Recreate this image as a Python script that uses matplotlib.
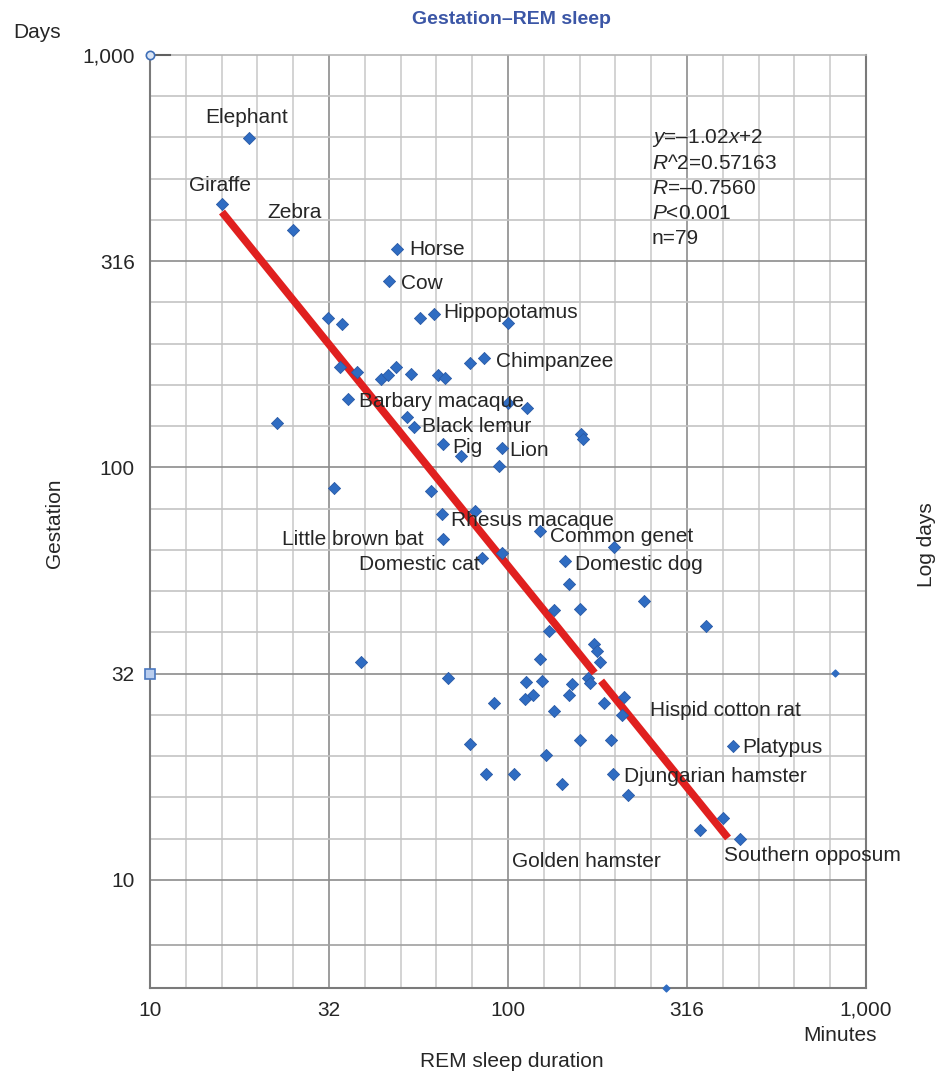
import numpy as np
import matplotlib
matplotlib.use("Agg")
import matplotlib.pyplot as plt

plt.rcParams['font.family'] = ['Liberation Sans', 'DejaVu Sans']
plt.rcParams['mathtext.fontset'] = 'custom'
plt.rcParams['mathtext.rm'] = 'Liberation Sans'
plt.rcParams['mathtext.it'] = 'Liberation Sans:italic'

# REM sleep duration (minutes) and gestation (days)
remSleep = [18.9, 15.9, 25.1, 49.1, 46.6, 31.5, 34.4, 56.8, 62.1, 99.8,
            33.9, 37.8, 44.2, 46.2, 48.7, 53.6, 63.9, 66.8, 78.5, 85.9,
            35.7, 99.8, 113.0, 52.3, 54.5, 66.0, 74.1, 96.0, 94.4, 22.6,
            159.9, 162.3, 32.7, 60.8, 65.3, 80.7, 65.8, 84.8, 96.4, 122.9,
            198.2, 144.6, 147.8, 239.8, 134.2, 158.9, 130.2, 358.0, 173.9, 177.6,
            180.7, 122.9, 38.8, 68.0, 91.6, 112.0, 124.2, 151.2, 167.6, 169.8,
            117.2, 111.8, 147.8, 185.1, 210.9, 134.7, 207.8, 158.9, 194.0, 78.3,
            127.9, 87.0, 103.9, 141.8, 196.1, 216.0, 425.9, 397.9, 343.9, 445.6]
gestation = [630, 436, 376, 338, 282.8, 230, 222.8, 230, 235.6, 224.4,
             175.6, 170.7, 163.9, 167.9, 175.6, 168.5, 167.9, 164.8, 178.9, 184.3,
             146.3, 143.6, 139.2, 132.6, 125.6, 114.0, 106.4, 111.5, 100.8, 128.4,
             120.6, 117.4, 89.3, 87.7, 77.0, 78.4, 67.2, 60.3, 61.9, 70.3,
             64.0, 59.3, 52.1, 47.5, 45.1, 45.3, 40.1, 41.3, 37.3, 35.8,
             33.8, 34.4, 33.8, 30.9, 26.9, 30.2, 30.3, 29.9, 30.9, 30.0,
             28.1, 27.5, 28.1, 26.9, 27.7, 25.7, 25.1, 21.9, 21.9, 21.3,
             20.1, 18.1, 18.1, 17.1, 18.1, 16.1, 21.1, 14.1, 13.2, 12.6]

# stray marks in the original
strayX = [820.6, 276.3]
strayY = [31.8, 10 ** 0.738]

animalNames = ['Elephant', 'Giraffe', 'Zebra', 'Horse', 'Cow', 'Hippopotamus',
               'Chimpanzee', 'Barbary macaque', 'Black lemur', 'Pig', 'Lion',
               'Rhesus macaque', 'Common genet', 'Little brown bat', 'Domestic cat',
               'Domestic dog', 'Hispid cotton rat', 'Platypus', 'Djungarian hamster',
               'Golden hamster', 'Southern opposum']
# label anchor (left, middle) in axes fraction
labelPos = [(0.0768, 0.9325), (0.0545, 0.8596), (0.1634, 0.8307), (0.3617, 0.7910),
            (0.3506, 0.7546), (0.4092, 0.7235), (0.4832, 0.6720), (0.2919, 0.6281),
            (0.3799, 0.6013), (0.4218, 0.5788), (0.5014, 0.5756), (0.4204, 0.5016),
            (0.5587, 0.4834), (0.1844, 0.4812), (0.2919, 0.4544), (0.5936, 0.4544),
            (0.6983, 0.2969), (0.8268, 0.2583), (0.6620, 0.2272), (0.5056, 0.1361),
            (0.8017, 0.1415)]

statLines = [r'$y$=–1.02$x$+2', r'$R$^2=0.57163', r'$R$=–0.7560', r'$P$<0.001', 'n=79']

# drawn regression line in log-log space (as it appears on the chart)
fitSlope = -1.0737
fitIntercept = 3.9090
fitSegments = [(15.89, 174.6), (182.0, 411.7)]

xTicks = [10, 10 ** 1.5, 100, 10 ** 2.5, 1000]
xTickLabels = ['10', '32', '100', '316', '1,000']
yTicks = [10, 10 ** 1.5, 100, 10 ** 2.5, 1000]
yTickLabels = ['10', '32', '100', '316', '1,000']

textColor = '#262626'
blue = '#2f6cc2'

fig = plt.figure(figsize=(9.35, 10.74), dpi=100)
ax = fig.add_axes([150 / 935, 1 - 988 / 1074, 716 / 935, 933 / 1074])
ax.set_xscale('log')
ax.set_yscale('log')
ax.set_xlim(10, 1000)
ax.set_ylim(10 ** 0.738, 1000)

# grid every 0.1 decade, darker at half decades
for k in range(11, 30):
    v = 10 ** (k / 10)
    dark = k % 5 == 0
    ax.axvline(v, color='#8c8c8c' if dark else '#cccccc', lw=1.2, zorder=1)
for k in range(10, 30):
    v = 10 ** (k / 10)
    dark = k % 5 == 0
    ax.axhline(v, color='#8c8c8c' if dark else '#c4c4c4', lw=1.2, zorder=1)
ax.axhline(10 ** 0.842, color='#a0a0a0', lw=1.2, zorder=1)

for lo, hi in fitSegments:
    xs = np.array([lo, hi])
    ys = 10 ** (fitIntercept + fitSlope * np.log10(xs))
    ax.plot(xs, ys, color='#e0201f', lw=5.5, solid_capstyle='butt', zorder=2)

ax.scatter(remSleep, gestation, marker='D', s=38, color=blue,
           edgecolors='#2a5aa6', linewidths=0.6, zorder=3)
ax.scatter(strayX, strayY, marker='D', s=12, color=blue, zorder=3, clip_on=False)

# axis end markers
ax.plot([10, 10 ** 1.055], [1000, 1000], color='#606060', lw=1.5, zorder=4, clip_on=False)
ax.plot([10], [1000], marker='o', ms=6, mfc='#dce6f5', mec='#3f6fb8', mew=1.2,
        zorder=5, clip_on=False)
ax.plot([10], [10 ** 1.5], marker='s', ms=6.5, mfc='#b9cdee', mec='#4a78c0', mew=1.2,
        zorder=5, clip_on=False)

for name, (fx, fy) in zip(animalNames, labelPos):
    ax.text(fx, fy, name, transform=ax.transAxes, fontsize=15, color=textColor,
            ha='left', va='center', zorder=4)

for i, line in enumerate(statLines):
    ax.text(0.7011, 0.9110 - i * 0.0268, line, transform=ax.transAxes, fontsize=15,
            color=textColor, ha='left', va='center', zorder=4)

ax.set_xticks(xTicks)
ax.set_xticklabels(xTickLabels)
ax.set_yticks(yTicks)
ax.set_yticklabels(yTickLabels)
ax.minorticks_off()
ax.tick_params(axis='x', length=0, pad=9, labelsize=15, colors=textColor)
ax.tick_params(axis='y', length=0, pad=11, labelsize=15, colors=textColor)

for side in ['left', 'right', 'bottom']:
    ax.spines[side].set_color('#7a7a7a')
    ax.spines[side].set_linewidth(1.5)
ax.spines['top'].set_color('#b5b5b5')
ax.spines['top'].set_linewidth(1.2)

fig.text(0.5465, 0.9814, 'Gestation–REM sleep', fontsize=14, fontweight='bold',
         color='#3b56a6', ha='center', va='center')
fig.text(0.0396, 0.9693, 'Days', fontsize=15, color=textColor, ha='center', va='center')
fig.text(0.0588, 0.5130, 'Gestation', fontsize=15, color=textColor, rotation=90,
         ha='center', va='center')
fig.text(0.9904, 0.4926, 'Log days', fontsize=15, color=textColor, rotation=90,
         ha='center', va='center')
fig.text(0.8984, 0.0363, 'Minutes', fontsize=15, color=textColor, ha='center', va='center')
fig.text(0.5476, 0.0112, 'REM sleep duration', fontsize=15, color=textColor,
         ha='center', va='center')

fig.savefig('out.png', dpi=100)
